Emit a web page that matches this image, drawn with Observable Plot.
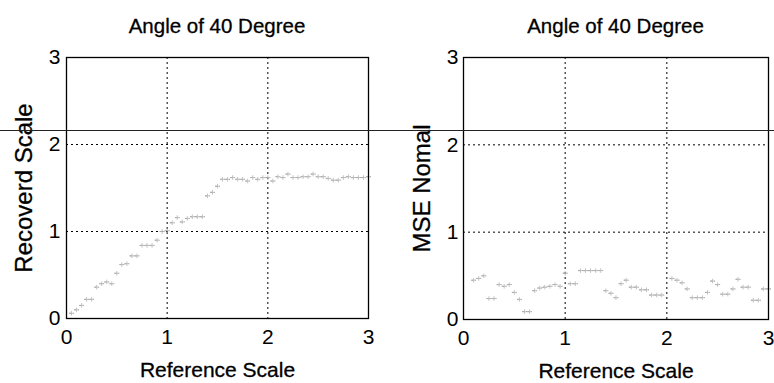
<!DOCTYPE html>
<html><head><meta charset="utf-8">
<script src="https://cdn.jsdelivr.net/npm/d3@7"></script>
<script src="https://cdn.jsdelivr.net/npm/@observablehq/plot@0.6"></script>
<style>
body{margin:0;background:#fff;font-family:"Liberation Sans",Arial,sans-serif;}
#wrap{position:relative;width:774px;height:383px;overflow:hidden;background:#fff}
.panel{position:absolute;top:0;width:387px;height:383px}
.panel svg{position:absolute;top:40px;left:0}
.title{position:absolute;top:16px;font-size:20.5px;line-height:20px;white-space:nowrap;transform:translateX(-50%);color:#000;-webkit-text-stroke:0.3px #000}
#scan{position:absolute;left:0;top:130px;width:774px;height:1px;background:#222}
</style></head><body>
<div id="wrap"></div>
<script>
// Reference scale (x) shared by both panels
const refScale = [0.05,0.10,0.15,0.20,0.25,0.30,0.35,0.40,0.45,0.50,0.55,0.60,0.65,0.70,0.75,0.80,0.85,0.90,0.95,1.00,
  1.05,1.10,1.15,1.20,1.25,1.30,1.35,1.40,1.45,1.50,1.55,1.60,1.65,1.70,1.75,1.80,1.85,1.90,1.95,2.00,
  2.05,2.10,2.15,2.20,2.25,2.30,2.35,2.40,2.45,2.50,2.55,2.60,2.65,2.70,2.75,2.80,2.85,2.90,2.95,3.00];
// Left panel: recovered scale
const recovered = [0.06,0.10,0.15,0.22,0.22,0.36,0.40,0.42,0.40,0.52,0.62,0.63,0.72,0.72,0.84,0.84,0.84,0.90,1.00,1.01,
  1.10,1.16,1.11,1.15,1.17,1.17,1.17,1.41,1.45,1.52,1.60,1.60,1.62,1.60,1.60,1.58,1.62,1.60,1.62,1.62,
  1.58,1.63,1.62,1.66,1.62,1.62,1.63,1.63,1.66,1.63,1.63,1.61,1.59,1.59,1.62,1.63,1.62,1.62,1.62,1.63];
// Right panel: MSE normal (null = no marker)
const mseNormal = [null,0.45,0.47,0.50,0.24,0.24,0.40,0.38,0.40,0.31,0.23,0.09,0.09,0.33,0.36,0.37,0.38,0.40,0.38,0.53,
  0.41,0.41,0.56,0.56,0.56,0.56,0.56,0.33,0.30,0.25,0.41,0.45,0.37,0.37,0.34,0.34,0.28,0.28,0.28,null,
  0.47,0.45,0.42,0.35,0.25,0.25,0.25,0.31,0.44,0.40,0.29,0.29,0.35,0.46,0.37,0.37,0.22,0.22,0.35,0.35];
const axisTicks = [0,1,2,3];
const gridTicks = [1,2];
const titleText = "Angle of 40 Degree";
const xLabel = "Reference Scale";
const yLabels = ["Recoverd Scale","MSE Nomal"];

const wrap = document.getElementById("wrap");
const font = '"Liberation Sans", Arial, sans-serif';

function panel(values, yLabel, left, mLeft, mRight, mBottom, tickPad, yLabDx) {
  const data = refScale.map((x,i)=>({x, y: values[i]})).filter(d=>d.y!=null);
  const div = document.createElement("div");
  div.className = "panel";
  div.style.left = left + "px";
  const plot = Plot.plot({
    width: 387, height: 343,
    marginTop: 17, marginBottom: mBottom, marginLeft: mLeft, marginRight: mRight,
    style: {fontFamily: font, background: "transparent", color: "#000", overflow: "visible"},
    x: {domain: [0,3]},
    y: {domain: [0,3]},
    marks: [
      Plot.gridX(gridTicks, {stroke: "#000", strokeOpacity: 1, strokeWidth: 1, strokeDasharray: "2,3"}),
      Plot.gridY(gridTicks, {stroke: "#000", strokeOpacity: 1, strokeWidth: 1, strokeDasharray: "2,3"}),
      Plot.link(data, {x1: d=>d.x-0.024, x2: d=>d.x+0.024, y1: "y", y2: "y", stroke: "#9a9a9a", strokeWidth: 1, strokeDasharray: "2,2"}),
      Plot.dot(data, {x: "x", y: "y", symbol: "plus", r: 1.6, stroke: "#b4b4b4", strokeWidth: 0.8}),
      Plot.frame({stroke: "#000", strokeWidth: 1.3}),
      Plot.axisX(axisTicks, {tickSize: 0, tickPadding: 11, fontSize: 21, label: null, tickFormat: d=>String(d), fill: "#000", stroke: "#000", strokeWidth: 0.3}),
      Plot.axisY(axisTicks, {tickSize: 0, tickPadding: tickPad, fontSize: 21, label: null, tickFormat: d=>String(d), fill: "#000", stroke: "#000", strokeWidth: 0.3}),
      Plot.text([xLabel], {frameAnchor: "bottom", dy: 58, lineAnchor: "bottom", fontSize: 21, fill: "#000", stroke: "#000", strokeWidth: 0.3}),
      Plot.text([yLabel], {frameAnchor: "left", textAnchor: "middle", dx: yLabDx, rotate: -90, fontSize: 24, fill: "#000", stroke: "#000", strokeWidth: 0.3})
    ]
  });
  div.appendChild(plot);
  const t = document.createElement("div");
  t.className = "title";
  t.textContent = titleText;
  t.style.left = (mLeft + (387 - mLeft - mRight)/2) + "px";
  div.appendChild(t);
  wrap.appendChild(div);
}
panel(recovered, yLabels[0], 0, 66, 19, 65, 6, -42);
panel(mseNormal, yLabels[1], 387, 76, 6, 64, 5, -41);
const scan = document.createElement("div");
scan.id = "scan";
wrap.appendChild(scan);
</script>
</body></html>
